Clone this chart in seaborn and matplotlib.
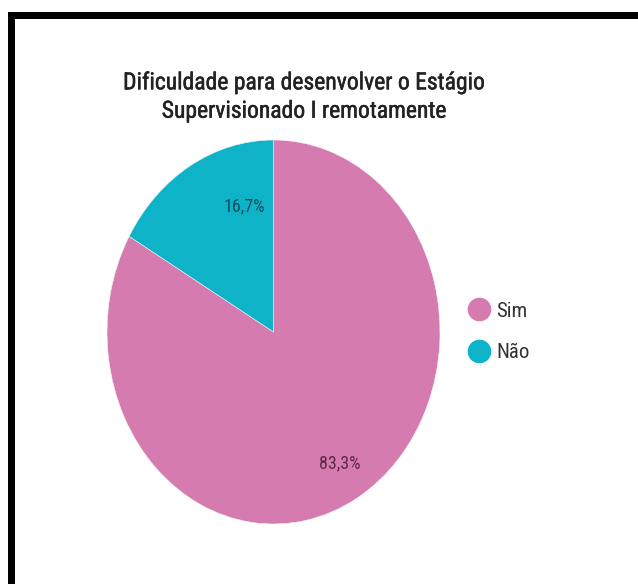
import matplotlib
matplotlib.use("Agg")
import matplotlib.pyplot as plt
import matplotlib.patheffects as pe
from matplotlib.patches import Rectangle
from matplotlib.lines import Line2D
import seaborn as sns

# Survey answers
categories = ["Sim", "Não"]
shares = [83.3, 16.7]
colors = ["#D67BB0", "#0FB3C7"]
title = "Dificuldade para desenvolver o Estágio\nSupervisionado I remotamente"

sns.set_theme(style="white")
plt.rcParams["font.family"] = ["Roboto Condensed", "Roboto", "DejaVu Sans"]

W, H = 638, 584
fig = plt.figure(figsize=(W / 100, H / 100), dpi=100)
fig.patch.set_facecolor("white")

# frame lines along the top and left edge
fig.add_artist(Rectangle((8 / W, 0), 7 / W, 1 - 12 / H, transform=fig.transFigure,
                         facecolor="black", edgecolor="none"))
fig.add_artist(Rectangle((8 / W, 1 - 19 / H), 1, 7 / H, transform=fig.transFigure,
                         facecolor="black", edgecolor="none"))

fig.text(304 / W, 1 - 97 / H, title, ha="center", va="center", fontsize=17,
         color="#222222", linespacing=1.3,
         path_effects=[pe.withStroke(linewidth=0.35, foreground="#222222")])

# pie stretched into the ellipse box
ax = fig.add_axes([107 / W, 1 - 524 / H, 333 / W, 384 / H])
wedges, texts, autotexts = ax.pie(
    shares, colors=colors, startangle=90, counterclock=False,
    autopct=lambda p: f"{p:.1f}%".replace(".", ","), pctdistance=0.79,
    wedgeprops=dict(linewidth=0.4, edgecolor="#f4f4f4"),
    textprops=dict(fontsize=13),
)
ax.set_aspect("auto")
ax.set_xlim(-1, 1)
ax.set_ylim(-1, 1)
ax.axis("off")
autotexts[0].set_color("#5b2a48")
autotexts[1].set_color("#0e4f5e")
x, y = autotexts[1].get_position()
autotexts[1].set_position((x * 0.45, y * 0.96))

handles = [Line2D([], [], marker="o", linestyle="", markersize=16,
                  markerfacecolor=c, markeredgecolor=c) for c in colors]
fig.legend(handles, categories, loc="center left",
           bbox_to_anchor=(458 / W, 1 - 332 / H), frameon=False,
           fontsize=15, labelcolor="#333333", handletextpad=0.35,
           labelspacing=1.1, handlelength=1.0, borderpad=0)

fig.savefig("out.png", dpi=100, facecolor="white")
